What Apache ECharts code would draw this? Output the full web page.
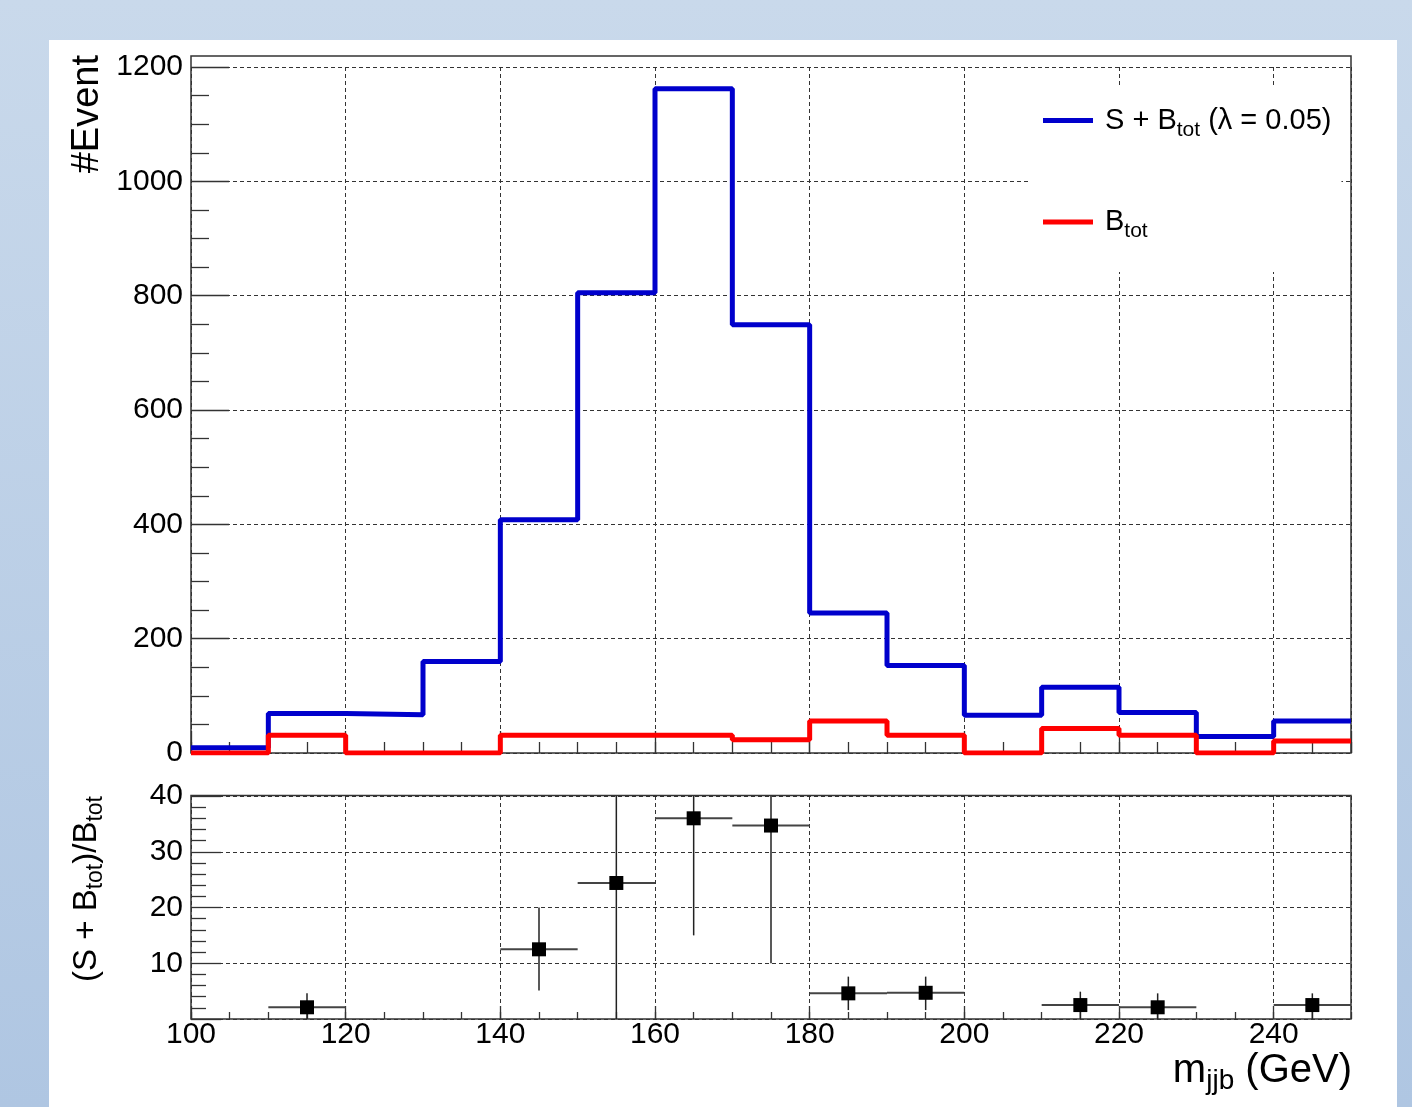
<!DOCTYPE html>
<html><head><meta charset="utf-8">
<script src="https://cdn.jsdelivr.net/npm/echarts@6/dist/echarts.min.js"></script>
<style>html,body{margin:0;padding:0;}#c{width:1412px;height:1107px;}</style>
</head><body><div id="c"></div>
<script>
// ---- data ----
const binEdges = [100,110,120,130,140,150,160,170,180,190,200,210,220,230,240,250];
const sigPlusBkg = [9,69,67,160,408,805,1162,749,245,153,66,115,71,29,56];
const bkgTot = [0,31,0,0,31,31,31,23,56,31,0,43,31,0,21];
const ratioX = [115,145,155,165,175,185,195,215,225,245];
const ratioVal = [2.1,12.5,24.4,36.0,34.7,4.6,4.7,2.5,2.1,2.5];
const ratioErrUp = [2.5,7.5,20,21,24.7,3.0,2.9,2.4,2.5,2.1];
const ratioErrDown = [2.1,7.4,24.4,21.0,24.7,3.0,3.1,2.5,2.1,2.5];
const binHalfWidth = 5;
const seriesNames = ['S + B_tot', 'B_tot'];

const FONT = "'Liberation Sans', Arial, Helvetica, sans-serif";
const LABEL_SIZE = 30;

function stepData(vals){
  const d = vals.map((v,i)=>[binEdges[i], v]);
  d.push([binEdges[binEdges.length-1], vals[vals.length-1]]);
  return d;
}

const gridLine = {show:true, lineStyle:{color:'#333', width:1, type:[4,3]}};
const tickStyle = {color:'#333', width:1.3};
const plainNum = v => String(v);

function renderErr(params, api){
  const x = api.value(0), y = api.value(1), lo = api.value(2), hi = api.value(3);
  const cs = params.coordSys;
  const pL = api.coord([x - binHalfWidth, y]);
  const pR = api.coord([x + binHalfWidth, y]);
  const pLo = api.coord([x, lo]);
  const pHi = api.coord([x, hi]);
  const top = cs.y, bot = cs.y + cs.height;
  return {type:'group', children:[
    {type:'line', shape:{x1:pL[0], y1:pL[1], x2:pR[0], y2:pR[1]}, style:{stroke:'#444', lineWidth:2}},
    {type:'line', shape:{x1:pLo[0], y1:Math.min(pLo[1], bot), x2:pHi[0], y2:Math.max(pHi[1], top)}, style:{stroke:'#222', lineWidth:1.5}}
  ]};
}

const chart = echarts.init(document.getElementById('c'), null, {renderer:'canvas'});
chart.setOption({
  animation:false,
  backgroundColor:{type:'linear', x:0, y:0, x2:0, y2:1, colorStops:[{offset:0,color:'#c9d9eb'},{offset:1,color:'#afc6e2'}]},
  grid:[
    {left:191, right:61, top:67, height:686, show:false},
    {left:191, right:61, top:796, height:223, show:false}
  ],
  xAxis:[
    {type:'value', gridIndex:0, min:100, max:250, interval:20,
     axisLine:{show:false}, axisLabel:{show:false},
     axisTick:{show:true, inside:true, length:22, lineStyle:tickStyle},
     splitLine:gridLine},
    {type:'value', gridIndex:0, min:100, max:250, interval:5, position:'bottom',
     axisLine:{show:false}, axisLabel:{show:false}, splitLine:{show:false},
     axisTick:{show:true, inside:true, length:11, lineStyle:tickStyle}},
    {type:'value', gridIndex:1, min:100, max:250, interval:20,
     axisLine:{show:false},
     axisLabel:{show:true, fontSize:LABEL_SIZE, fontFamily:FONT, color:'#000', margin:1, showMaxLabel:false, formatter:plainNum},
     axisTick:{show:true, inside:true, length:13, lineStyle:tickStyle},
     splitLine:gridLine},
    {type:'value', gridIndex:1, min:100, max:250, interval:5, position:'bottom',
     axisLine:{show:false}, axisLabel:{show:false}, splitLine:{show:false},
     axisTick:{show:true, inside:true, length:7, lineStyle:tickStyle}}
  ],
  yAxis:[
    {type:'value', gridIndex:0, min:0, max:1200, interval:200,
     axisLine:{show:false},
     axisLabel:{fontSize:LABEL_SIZE, fontFamily:FONT, color:'#000', margin:8, formatter:plainNum},
     axisTick:{show:true, inside:true, length:38, lineStyle:tickStyle},
     minorTick:{show:true, splitNumber:4, length:18, lineStyle:tickStyle},
     splitLine:gridLine},
    {type:'value', gridIndex:1, min:0, max:40, interval:10,
     axisLine:{show:false},
     axisLabel:{fontSize:LABEL_SIZE, fontFamily:FONT, color:'#000', margin:8, showMinLabel:false, formatter:plainNum},
     axisTick:{show:true, inside:true, length:30, lineStyle:tickStyle},
     minorTick:{show:true, splitNumber:5, length:15, lineStyle:tickStyle},
     splitLine:gridLine}
  ],
  legend:{
    data:seriesNames, orient:'vertical', left:1030, top:86,
    padding:[20,10,30,13], itemWidth:50, itemHeight:5, itemGap:67, icon:'rect',
    backgroundColor:'#ffffff', selectedMode:false,
    formatter:function(name){
      return name === seriesNames[0] ? '{f|S + B}{s|tot}{n| (λ = 0.05)}' : '{f|B}{s|tot}';
    },
    textStyle:{rich:{
      f:{fontSize:29, fontFamily:FONT, color:'#000', lineHeight:40, padding:[0,0,0,7]},
      n:{fontSize:29, fontFamily:FONT, color:'#000', lineHeight:40},
      s:{fontSize:21, fontFamily:FONT, color:'#000', lineHeight:12, verticalAlign:'bottom'}
    }}
  },
  graphic:[
    {type:'rect', z:-100, shape:{x:49, y:40, width:1348, height:1067}, style:{fill:'#ffffff'}},
    {type:'rect', z:1, shape:{x:191, y:56, width:1160, height:697}, style:{fill:'none', stroke:'#333', lineWidth:1.5}},
    {type:'rect', z:1, shape:{x:191, y:795.5, width:1160, height:223.5}, style:{fill:'none', stroke:'#333', lineWidth:1.5}},
    {type:'text', z:10, x:88, y:55, rotation:Math.PI/2,
     style:{text:'#Event', fontSize:38, fontFamily:FONT, fill:'#000', align:'right', verticalAlign:'middle'}},
    {type:'text', z:10, x:87, y:796, rotation:Math.PI/2,
     style:{text:'{n|(S + B}{s|tot}{n|)/B}{s|tot}', align:'right', verticalAlign:'middle',
       rich:{n:{fontSize:33, fontFamily:FONT, fill:'#000', color:'#000', lineHeight:40},
             s:{fontSize:23, fontFamily:FONT, fill:'#000', color:'#000', lineHeight:22, verticalAlign:'bottom'}}}},
    {type:'text', z:10, x:1352, y:1071,
     style:{text:'{n|m}{s|jjb}{n| (GeV)}', align:'right', verticalAlign:'middle',
       rich:{n:{fontSize:40, fontFamily:FONT, fill:'#000', color:'#000', lineHeight:48},
             s:{fontSize:28, fontFamily:FONT, fill:'#000', color:'#000', lineHeight:10, verticalAlign:'bottom'}}}}
  ],
  series:[
    {name:seriesNames[0], type:'line', step:'end', xAxisIndex:0, yAxisIndex:0,
     data:stepData(sigPlusBkg), symbol:'none', showSymbol:false, z:3,
     lineStyle:{color:'#0000cc', width:5}, itemStyle:{color:'#0000cc'}},
    {name:seriesNames[1], type:'line', step:'end', xAxisIndex:0, yAxisIndex:0,
     data:stepData(bkgTot), symbol:'none', showSymbol:false, z:4,
     lineStyle:{color:'#ff0000', width:5}, itemStyle:{color:'#ff0000'}},
    {name:'ratioErr', type:'custom', xAxisIndex:2, yAxisIndex:1, z:4,
     data:ratioX.map((x,i)=>[x, ratioVal[i], ratioVal[i]-ratioErrDown[i], ratioVal[i]+ratioErrUp[i]]),
     renderItem:renderErr},
    {name:'ratio', type:'scatter', xAxisIndex:2, yAxisIndex:1, z:5,
     data:ratioX.map((x,i)=>[x, ratioVal[i]]), symbol:'rect', symbolSize:14,
     itemStyle:{color:'#000', opacity:1}}
  ]
});
</script>
</body></html>
